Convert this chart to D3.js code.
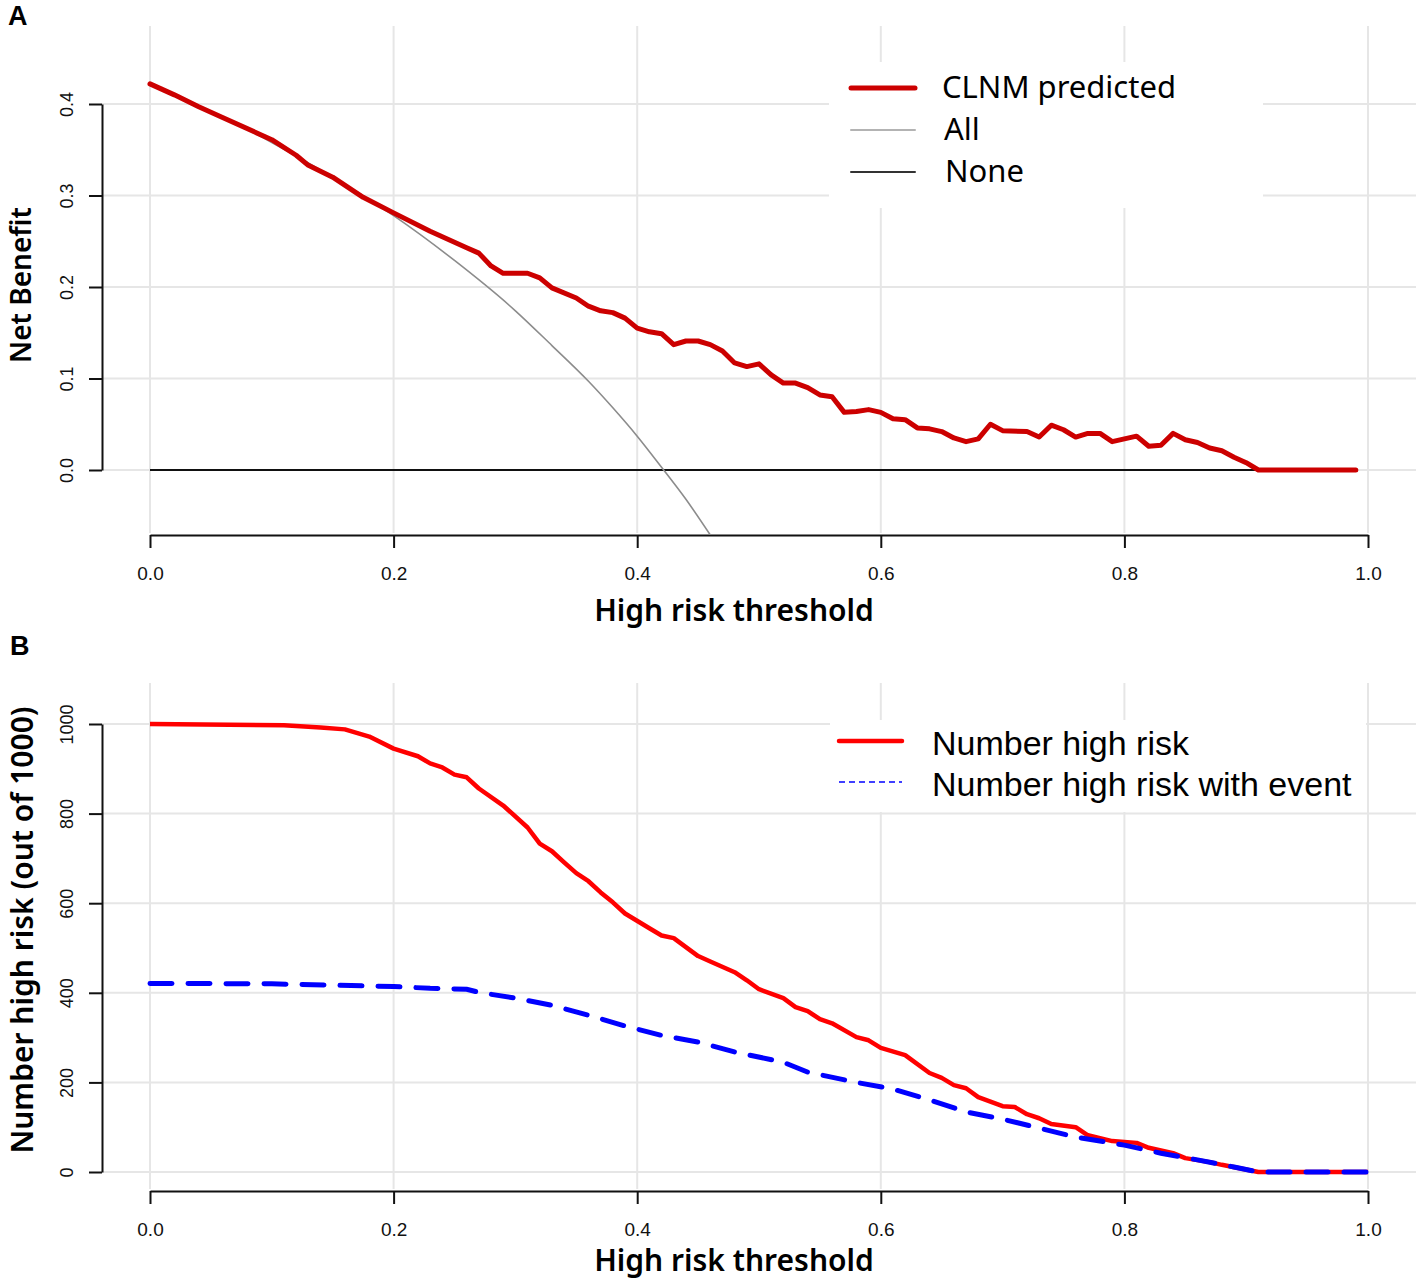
<!DOCTYPE html>
<html>
<head>
<meta charset="utf-8">
<script src="https://cdn.jsdelivr.net/npm/d3@7"></script>
<style>
  body { margin: 0; background: #fff; }
  svg { display: block; }
</style>
</head>
<body>
<svg id="chart" width="1417" height="1283"></svg>
<script>
// panel A: decision curve, net benefit of the CLNM model
const clnmThreshold = [0, 0.02, 0.04, 0.06, 0.10, 0.12, 0.13, 0.15, 0.175, 0.20,
  0.23, 0.26, 0.27, 0.28, 0.29, 0.31, 0.32, 0.33, 0.35, 0.36,
  0.37, 0.38, 0.39, 0.40, 0.41, 0.42, 0.43, 0.44, 0.45, 0.46,
  0.47, 0.48, 0.49, 0.50, 0.51, 0.52, 0.53, 0.54, 0.55, 0.56,
  0.57, 0.58, 0.59, 0.60, 0.61, 0.62, 0.63, 0.64, 0.65, 0.66,
  0.67, 0.68, 0.69, 0.70, 0.72, 0.73, 0.74, 0.75, 0.76, 0.77,
  0.78, 0.79, 0.80, 0.81, 0.82, 0.83, 0.84, 0.85, 0.86, 0.87,
  0.88, 0.89, 0.90, 0.91, 0.99];
const clnmNetBenefit = [0.422, 0.410, 0.397, 0.385, 0.361, 0.344, 0.333, 0.320, 0.298, 0.281,
  0.261, 0.243, 0.237, 0.223, 0.215, 0.215, 0.210, 0.199, 0.188, 0.179,
  0.174, 0.172, 0.166, 0.155, 0.151, 0.149, 0.137, 0.141, 0.141, 0.137,
  0.130, 0.117, 0.113, 0.116, 0.104, 0.095, 0.095, 0.090, 0.082, 0.080,
  0.063, 0.064, 0.066, 0.063, 0.056, 0.055, 0.046, 0.045, 0.042, 0.035,
  0.031, 0.034, 0.050, 0.043, 0.042, 0.036, 0.049, 0.044, 0.036, 0.040,
  0.040, 0.031, 0.034, 0.037, 0.026, 0.027, 0.040, 0.033, 0.030, 0.024,
  0.021, 0.014, 0.008, 0.000, 0.000];

// treat-all curve
const allThreshold = [0, 0.05, 0.10, 0.15, 0.20, 0.25, 0.30, 0.33, 0.36, 0.38, 0.40, 0.42, 0.44, 0.46];
const allNetBenefit = [0.422, 0.392, 0.358, 0.320, 0.278, 0.229, 0.174, 0.136, 0.097, 0.068, 0.037, 0.003, -0.032, -0.071];

// treat-none curve
const noneThreshold = [0, 0.99];
const noneNetBenefit = [0, 0];

// panel B: clinical impact curve
const highRiskThreshold = [0, 0.11, 0.14, 0.16, 0.18, 0.20, 0.22, 0.23, 0.24, 0.25,
  0.26, 0.27, 0.29, 0.31, 0.32, 0.33, 0.34, 0.35, 0.36, 0.37,
  0.38, 0.39, 0.41, 0.42, 0.43, 0.44, 0.45, 0.46, 0.48, 0.49,
  0.50, 0.52, 0.53, 0.54, 0.55, 0.56, 0.58, 0.59, 0.60, 0.62,
  0.64, 0.65, 0.66, 0.67, 0.68, 0.70, 0.71, 0.72, 0.73, 0.74,
  0.76, 0.77, 0.79, 0.81, 0.82, 0.84, 0.85, 0.87, 0.88, 0.91, 1.00];
const highRiskCount = [1000, 997, 992, 988, 972, 945, 928, 912, 903, 887,
  881, 856, 818, 769, 733, 716, 691, 667, 649, 624,
  602, 577, 544, 528, 522, 502, 482, 470, 446, 428,
  408, 388, 368, 359, 341, 332, 301, 294, 277, 261,
  221, 210, 194, 187, 167, 147, 145, 129, 120, 107,
  100, 82, 69, 65, 54, 42, 31, 22, 16, 0, 0];

const eventThreshold = [0, 0.10, 0.20, 0.23, 0.26, 0.27, 0.30, 0.33, 0.36, 0.39,
  0.40, 0.42, 0.45, 0.48, 0.52, 0.54, 0.58, 0.61, 0.64, 0.67,
  0.70, 0.73, 0.76, 0.80, 0.83, 0.86, 0.89, 0.91, 1.00];
const eventCount = [421, 420, 414, 410, 408, 401, 388, 372, 350, 326,
  319, 305, 290, 268, 245, 223, 200, 185, 161, 134,
  118, 98, 78, 60, 42, 27, 11, 0, 0];

// ticks
const xTicks = [0, 0.2, 0.4, 0.6, 0.8, 1.0];
const yTicksA = [0, 0.1, 0.2, 0.3, 0.4];
const yTicksB = [0, 200, 400, 600, 800, 1000];

const svg = d3.select("#chart");
const tickFont = "'Liberation Sans', Arial, sans-serif";
const titleFont = "'Noto Sans', 'Open Sans', sans-serif";

//draws grid, axes and titles for one panel, returns the scales
function drawFrame(p) {
    const x = d3.scaleLinear().domain([0, 1]).range([150, 1368]);
    const y = d3.scaleLinear().domain(p.yDomain).range(p.yRange);
    const g = svg.append("g");

    //light grey grid over the whole plot region
    g.selectAll(".vgrid").data(xTicks).enter().append("line")
        .attr("x1", d => x(d)).attr("x2", d => x(d))
        .attr("y1", p.top).attr("y2", p.bottom - 2)
        .attr("stroke", "#e6e6e6").attr("stroke-width", 2);
    g.selectAll(".hgrid").data(p.yTicks).enter().append("line")
        .attr("x1", 102).attr("x2", 1416)
        .attr("y1", d => y(d)).attr("y2", d => y(d))
        .attr("stroke", "#e6e6e6").attr("stroke-width", 2);

    //bottom axis
    const xAxis = g.append("g")
        .attr("transform", `translate(0,${p.bottom})`)
        .call(d3.axisBottom(x).tickValues(xTicks).tickSize(13).tickSizeOuter(0)
            .tickFormat(d3.format(".1f")));
    xAxis.selectAll("path, line").attr("stroke", "#111").attr("stroke-width", 2);
    xAxis.selectAll("text")
        .attr("y", 38).attr("dy", "0.35em")
        .style("font-family", tickFont).style("font-size", "19px").attr("fill", "#111");

    //left axis, labels turned like base R
    const yAxis = g.append("g")
        .attr("transform", "translate(102,0)")
        .call(d3.axisLeft(y).tickValues(p.yTicks).tickSize(13).tickSizeOuter(0)
            .tickFormat(p.yFormat));
    yAxis.selectAll("path, line").attr("stroke", "#111").attr("stroke-width", 2);
    yAxis.selectAll("text")
        .attr("transform", "rotate(-90)")
        .attr("x", 0).attr("y", -35).attr("dy", "0.35em")
        .attr("text-anchor", "middle")
        .style("font-family", tickFont).style("font-size", "18px").attr("fill", "#111");

    //axis titles
    g.append("text")
        .attr("x", 734).attr("y", p.xTitleY)
        .attr("text-anchor", "middle")
        .style("font-family", titleFont).style("font-size", "30px").style("font-weight", 600)
        .text("High risk threshold");
    g.append("text")
        .attr("transform", `translate(${p.yTitleX},${p.yTitleMid}) rotate(-90)`)
        .attr("text-anchor", "middle").attr("dy", "0.35em")
        .style("font-family", titleFont).style("font-size", p.yTitleSize).style("font-weight", 600)
        .text(p.yTitle);

    //panel letter
    g.append("text")
        .attr("x", p.letterX).attr("y", p.letterY)
        .style("font-family", tickFont).style("font-size", "27px").style("font-weight", "bold")
        .text(p.letter);

    return { x: x, y: y };
}

function curve(sx, sy, xs, ys) {
    return d3.line().x(d => sx(d[0])).y(d => sy(d[1]))(d3.zip(xs, ys));
}

// ---------- panel A ----------
const a = drawFrame({
    yDomain: [0, 0.4], yRange: [470, 104], yTicks: yTicksA, yFormat: d3.format(".1f"),
    top: 26, bottom: 535, xTitleY: 621,
    yTitle: "Net Benefit", yTitleX: 21, yTitleMid: 285, yTitleSize: "28px",
    letter: "A", letterX: 8, letterY: 25
});

svg.append("clipPath").attr("id", "clipA").append("rect")
    .attr("x", 102).attr("y", 26).attr("width", 1314).attr("height", 509);

const plotA = svg.append("g").attr("clip-path", "url(#clipA)");
plotA.append("path")
    .attr("d", curve(a.x, a.y, noneThreshold, noneNetBenefit))
    .attr("fill", "none").attr("stroke", "#111").attr("stroke-width", 2);
plotA.append("path")
    .attr("d", d3.line().curve(d3.curveMonotoneX).x(d => a.x(d[0])).y(d => a.y(d[1]))(d3.zip(allThreshold, allNetBenefit)))
    .attr("fill", "none").attr("stroke", "#8c8c8c").attr("stroke-width", 1.6);
plotA.append("path")
    .attr("d", curve(a.x, a.y, clnmThreshold, clnmNetBenefit))
    .attr("fill", "none").attr("stroke", "#cc0000").attr("stroke-width", 5)
    .attr("stroke-linejoin", "round").attr("stroke-linecap", "round");

//legend for panel A
const legA = svg.append("g");
legA.append("rect").attr("x", 829).attr("y", 62).attr("width", 434).attr("height", 146).attr("fill", "#fff");
const legAItems = [
    { label: "CLNM predicted", color: "#cc0000", width: 5, y: 88, tx: 942 },
    { label: "All", color: "#b3b3b3", width: 2, y: 130, tx: 944 },
    { label: "None", color: "#333", width: 2, y: 172, tx: 945 }
];
legAItems.forEach(d => {
    legA.append("line").attr("x1", 851).attr("x2", 915).attr("y1", d.y).attr("y2", d.y)
        .attr("stroke", d.color).attr("stroke-width", d.width).attr("stroke-linecap", "round");
    legA.append("text").attr("x", d.tx).attr("y", d.y + 10)
        .style("font-family", titleFont).style("font-size", "31px").text(d.label);
});

// ---------- panel B ----------
const b = drawFrame({
    yDomain: [0, 1000], yRange: [1172, 724], yTicks: yTicksB, yFormat: d3.format("d"),
    top: 683, bottom: 1191, xTitleY: 1271,
    yTitle: "Number high risk (out of 1000)", yTitleX: 22, yTitleMid: 930, yTitleSize: "30px",
    letter: "B", letterX: 10, letterY: 655
});

svg.append("path")
    .attr("d", curve(b.x, b.y, highRiskThreshold, highRiskCount))
    .attr("fill", "none").attr("stroke", "#ff0000").attr("stroke-width", 4.5)
    .attr("stroke-linejoin", "round");
svg.append("path")
    .attr("d", curve(b.x, b.y, eventThreshold, eventCount))
    .attr("fill", "none").attr("stroke", "#0000ff").attr("stroke-width", 5)
    .attr("stroke-dasharray", "22,16").attr("stroke-linecap", "round");

//legend for panel B
const legB = svg.append("g");
legB.append("rect").attr("x", 830).attr("y", 720).attr("width", 536).attr("height", 92).attr("fill", "#fff");
legB.append("line").attr("x1", 839).attr("x2", 902).attr("y1", 741).attr("y2", 741)
    .attr("stroke", "#ff0000").attr("stroke-width", 4.5).attr("stroke-linecap", "round");
legB.append("line").attr("x1", 839).attr("x2", 902).attr("y1", 782).attr("y2", 782)
    .attr("stroke", "#0000ff").attr("stroke-width", 1.6).attr("stroke-dasharray", "6,4");
legB.append("text").attr("x", 932).attr("y", 755)
    .style("font-family", tickFont).style("font-size", "34px").text("Number high risk");
legB.append("text").attr("x", 932).attr("y", 796)
    .style("font-family", tickFont).style("font-size", "34px").text("Number high risk with event");
</script>
</body>
</html>
